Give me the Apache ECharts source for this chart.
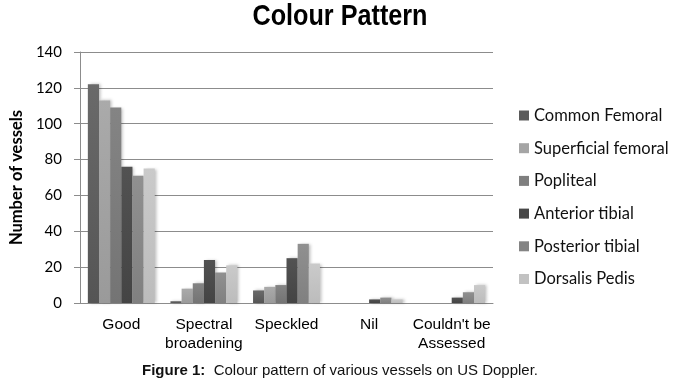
<!DOCTYPE html>
<html>
<head>
<meta charset="utf-8">
<script src="https://cdn.jsdelivr.net/npm/echarts@6/dist/echarts.min.js"></script>
<style>
html,body{margin:0;padding:0;background:#fff;}
#chart{width:680px;height:383px;}
</style>
</head>
<body>
<div id="chart"></div>
<script>
var chartTitle = 'Colour Pattern';
var categories = ['Good', 'Spectral\nbroadening', 'Speckled', 'Nil', "Couldn't be\nAssessed"];
var seriesNames = ['Common Femoral', 'Superficial femoral', 'Popliteal', 'Anterior tibial', 'Posterior tibial', 'Dorsalis Pedis'];
var commonFemoral = [122, 1, 7, 0, 0];
var superficialFemoral = [113, 8, 9, 0, 0];
var popliteal = [109, 11, 10, 0, 0];
var anteriorTibial = [76, 24, 25, 2, 3];
var posteriorTibial = [71, 17, 33, 3, 6];
var dorsalisPedis = [75, 21, 22, 2, 10];
var yTicks = [0, 20, 40, 60, 80, 100, 120, 140];

var seriesData = [commonFemoral, superficialFemoral, popliteal, anteriorTibial, posteriorTibial, dorsalisPedis];
var topColors = ['#6a6a6a', '#aaaaaa', '#848484', '#525252', '#909090', '#cacaca'];
var baseColors = ['#555555', '#9a9a9a', '#747474', '#444444', '#808080', '#bcbcbc'];
var legendColors = ['#5a5a5a', '#a5a5a5', '#7f7f7f', '#474747', '#848484', '#c2c2c2'];

var chart = echarts.init(document.getElementById('chart'), null, {renderer: 'canvas'});
var series = seriesNames.map(function (name, i) {
  return {
    name: name,
    type: 'bar',
    data: seriesData[i],
    barGap: '0%',
    barCategoryGap: '19%',
    itemStyle: {
      color: new echarts.graphic.LinearGradient(0, 0, 0, 1, [
        {offset: 0, color: topColors[i]},
        {offset: 1, color: baseColors[i]}
      ]),
      shadowColor: 'rgba(0,0,0,0.25)',
      shadowBlur: 3,
      shadowOffsetX: 2,
      shadowOffsetY: 0
    }
  };
});

chart.setOption({
  animation: false,
  backgroundColor: '#ffffff',
  color: legendColors,
  graphic: [{
    type: 'text',
    x: 340,
    y: 17,
    scaleX: 0.84,
    style: {
      text: chartTitle,
      textAlign: 'center',
      textVerticalAlign: 'middle',
      font: 'bold 30px "Liberation Sans", Arial, sans-serif',
      fill: '#000'
    }
  }],
  title: [{
    text: '{b|Figure 1:}  Colour pattern of various vessels on US Doppler.',
    left: 'center',
    top: 363,
    padding: 0,
    textStyle: {
      fontFamily: '"Liberation Sans", Arial, sans-serif', fontSize: 15, color: '#111', fontWeight: 'normal',
      rich: {b: {fontFamily: '"Liberation Sans", Arial, sans-serif', fontSize: 15, fontWeight: 'bold', color: '#111'}}
    }
  }],
  legend: {
    orient: 'vertical',
    left: 519,
    top: 107,
    padding: 0,
    itemWidth: 10,
    itemHeight: 10,
    itemGap: 15.7,
    icon: 'rect',
    textStyle: {fontFamily: 'Lato, "Open Sans", sans-serif', fontSize: 16.5, color: '#111', lineHeight: 17},
    data: seriesNames.map(function (n, i) { return {name: n, itemStyle: {color: legendColors[i]}}; })
  },
  grid: {left: 80, right: 187, top: 52, bottom: 80, containLabel: false},
  xAxis: {
    type: 'category',
    data: categories,
    axisLine: {show: true, lineStyle: {color: '#8c8c8c', width: 1}},
    axisTick: {show: false},
    axisLabel: {fontFamily: '"Liberation Sans", Arial, sans-serif', fontSize: 15.5, color: '#000', margin: 12, lineHeight: 19, interval: 0}
  },
  yAxis: {
    type: 'value',
    min: 0,
    max: 140,
    interval: 20,
    name: 'Number of vessels',
    nameLocation: 'middle',
    nameGap: 52,
    nameTextStyle: {fontFamily: 'Lato, "Open Sans", sans-serif', fontSize: 16.5, fontWeight: 'bold', color: '#000'},
    axisLine: {show: true, lineStyle: {color: '#8c8c8c', width: 1}},
    axisTick: {show: true, length: 6, lineStyle: {color: '#8c8c8c'}},
    axisLabel: {fontFamily: 'Lato, "Open Sans", sans-serif', fontSize: 15, color: '#000', margin: 18,
      formatter: function (v) { return yTicks.indexOf(v) >= 0 ? String(v) : ''; }},
    splitLine: {show: true, lineStyle: {color: '#8c8c8c', width: 1}}
  },
  series: series
});
</script>
</body>
</html>
